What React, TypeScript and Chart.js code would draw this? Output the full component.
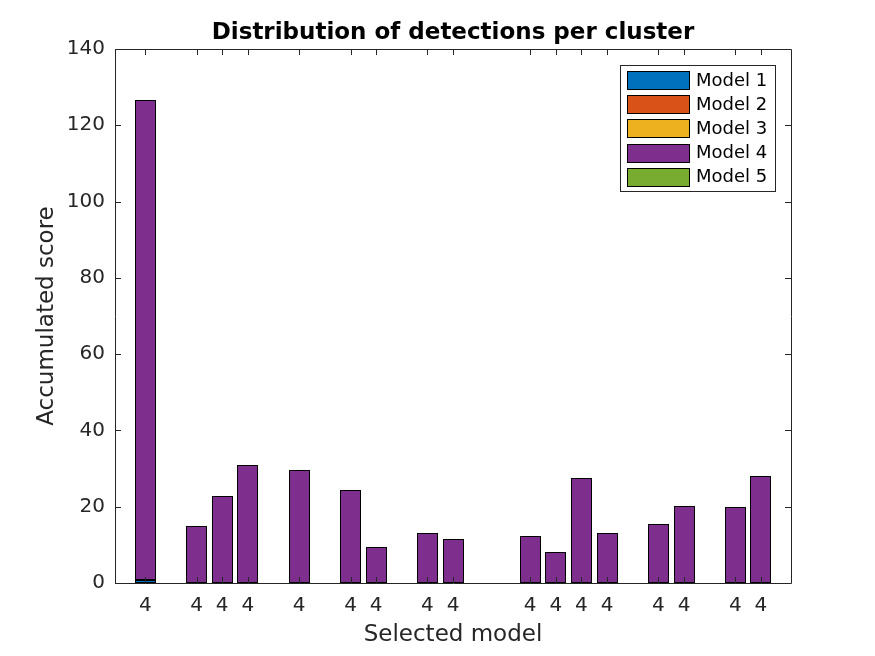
import { useEffect, useRef } from "react";
import { Chart, registerables } from "chart.js";

Chart.register(...registerables);

// x positions of the clusters that have a bar (gaps are empty clusters)
const positions = [1, 3, 4, 5, 7, 9, 10, 12, 13, 16, 17, 18, 19, 21, 22, 24, 25];
const tickLabels = ["4", "4", "4", "4", "4", "4", "4", "4", "4", "4", "4", "4", "4", "4", "4", "4", "4"];

const modelNames = ["Model 1", "Model 2", "Model 3", "Model 4", "Model 5"];
const modelColors = ["#0072BD", "#D95319", "#EDB120", "#7E2F8E", "#77AC30"];

const model1 = [0.8, 0, 0, 0, 0, 0, 0, 0, 0, 0, 0, 0, 0, 0, 0, 0, 0];
const model2 = [0, 0, 0, 0, 0, 0, 0, 0, 0, 0, 0, 0, 0, 0, 0, 0, 0];
const model3 = [0, 0, 0, 0, 0, 0, 0, 0, 0, 0, 0, 0, 0, 0, 0, 0, 0];
const model4 = [125.7, 14.9, 22.8, 31.0, 29.6, 24.4, 9.4, 13.1, 11.5, 12.3, 8.1, 27.5, 13.1, 15.5, 20.2, 19.9, 28.1];
const model5 = [0, 0, 0, 0, 0, 0, 0, 0, 0, 0, 0, 0, 0, 0, 0, 0, 0];

const yTicks = [0, 20, 40, 60, 80, 100, 120, 140];

const FONT = "'DejaVu Sans', sans-serif";
const AXIS_COLOR = "#262626";

// snap bar rectangles to whole pixels so the 1px black edges stay crisp
const crispBars = {
  id: "crispBars",
  afterDatasetsUpdate(chart: any) {
    chart.data.datasets.forEach((_: any, i: number) => {
      const meta = chart.getDatasetMeta(i);
      meta.data.forEach((el: any) => {
        const w = Math.round(el.width);
        const left = Math.round(el.x - w / 2);
        el.width = w;
        el.x = left + w / 2;
        el.y = Math.round(el.y);
        el.base = Math.round(el.base);
      });
    });
  },
};

const matlabFrame = {
  id: "matlabFrame",
  afterDraw(chart: any) {
    const { ctx, chartArea } = chart;
    const { left, right, top, bottom } = chartArea;
    const xs = chart.scales.x;
    const ys = chart.scales.y;
    const tick = 6;

    ctx.save();
    ctx.strokeStyle = AXIS_COLOR;
    ctx.lineWidth = 1;
    ctx.beginPath();
    ctx.rect(Math.round(left) + 0.5, Math.round(top) + 0.5, Math.round(right - left), Math.round(bottom - top));
    for (const v of yTicks) {
      const y = Math.round(ys.getPixelForValue(v)) + 0.5;
      ctx.moveTo(left, y);
      ctx.lineTo(left + tick, y);
      ctx.moveTo(right, y);
      ctx.lineTo(right - tick, y);
    }
    for (const v of positions) {
      const x = Math.round(xs.getPixelForValue(v)) + 0.5;
      ctx.moveTo(x, bottom);
      ctx.lineTo(x, bottom - tick);
      ctx.moveTo(x, top);
      ctx.lineTo(x, top + tick);
    }
    ctx.stroke();

    // title
    ctx.fillStyle = "#000";
    ctx.font = `bold 23px ${FONT}`;
    ctx.textAlign = "center";
    ctx.textBaseline = "alphabetic";
    ctx.fillText("Distribution of detections per cluster", (left + right) / 2, 39);

    // axis labels
    ctx.fillStyle = AXIS_COLOR;
    ctx.font = `23px ${FONT}`;
    ctx.fillText("Selected model", (left + right) / 2, 641);
    ctx.save();
    ctx.translate(53, (top + bottom) / 2);
    ctx.rotate(-Math.PI / 2);
    ctx.fillText("Accumulated score", 0, 0);
    ctx.restore();

    // legend
    const lx = 620.5;
    const ly = 65.5;
    ctx.fillStyle = "#fff";
    ctx.fillRect(lx, ly, 155, 126);
    ctx.strokeStyle = AXIS_COLOR;
    ctx.strokeRect(lx, ly, 155, 126);
    ctx.font = `18px ${FONT}`;
    ctx.textAlign = "left";
    ctx.textBaseline = "middle";
    modelNames.forEach((name, i) => {
      const sy = 71 + i * 24.2;
      ctx.fillStyle = modelColors[i];
      ctx.fillRect(627.5, Math.round(sy) + 0.5, 62, 18);
      ctx.strokeStyle = "#000";
      ctx.strokeRect(627.5, Math.round(sy) + 0.5, 62, 18);
      ctx.fillStyle = "#000";
      ctx.fillText(name, 696, sy + 10);
    });
    ctx.restore();
  },
};

const App = () => {
  const canvasRef = useRef<HTMLCanvasElement | null>(null);

  useEffect(() => {
    if (!canvasRef.current) return;
    const ctx = canvasRef.current.getContext("2d");
    if (!ctx) return;

    const series = [model1, model2, model3, model4, model5];

    const chart = new Chart(ctx, {
      type: "bar",
      data: {
        datasets: series.map((values, i) => ({
          label: modelNames[i],
          data: positions
            .map((x, j) => ({ x, y: values[j] }))
            .filter((p) => p.y > 0),
          backgroundColor: modelColors[i],
          borderColor: "#000",
          borderWidth: 1,
          borderSkipped: false,
          barPercentage: 0.8,
          categoryPercentage: 1,
        })),
      },
      options: {
        responsive: false,
        animation: false,
        layout: { padding: { top: 49, right: 84, left: 0, bottom: 0 } },
        plugins: {
          legend: { display: false },
          title: { display: false },
          tooltip: { enabled: false },
        },
        scales: {
          x: {
            type: "linear",
            stacked: true,
            offset: false,
            min: -0.18,
            max: 26.17,
            grid: { display: false, drawTicks: false, offset: false },
            border: { display: false },
            afterBuildTicks: (scale: any) => {
              scale.ticks = positions.map((v) => ({ value: v }));
            },
            afterFit: (scale: any) => {
              scale.height = 73;
            },
            ticks: {
              autoSkip: false,
              maxRotation: 0,
              padding: 11,
              color: AXIS_COLOR,
              font: { family: FONT, size: 20 },
              callback: (value: any) => {
                const idx = positions.indexOf(Number(value));
                return idx >= 0 ? tickLabels[idx] : "";
              },
            },
          },
          y: {
            stacked: true,
            min: 0,
            max: 140,
            grid: { display: false, drawTicks: false },
            border: { display: false },
            afterFit: (scale: any) => {
              scale.width = 115;
            },
            ticks: {
              stepSize: 20,
              padding: 10,
              color: AXIS_COLOR,
              font: { family: FONT, size: 20 },
            },
          },
        },
      },
      plugins: [crispBars, matlabFrame],
    });

    return () => {
      chart.destroy();
    };
  }, []);

  return (
    <div style={{ position: "fixed", left: 0, top: 0, width: 875, height: 656, background: "#fff" }}>
      <canvas ref={canvasRef} width={875} height={656} style={{ width: 875, height: 656 }}></canvas>
    </div>
  );
};

export default App;
